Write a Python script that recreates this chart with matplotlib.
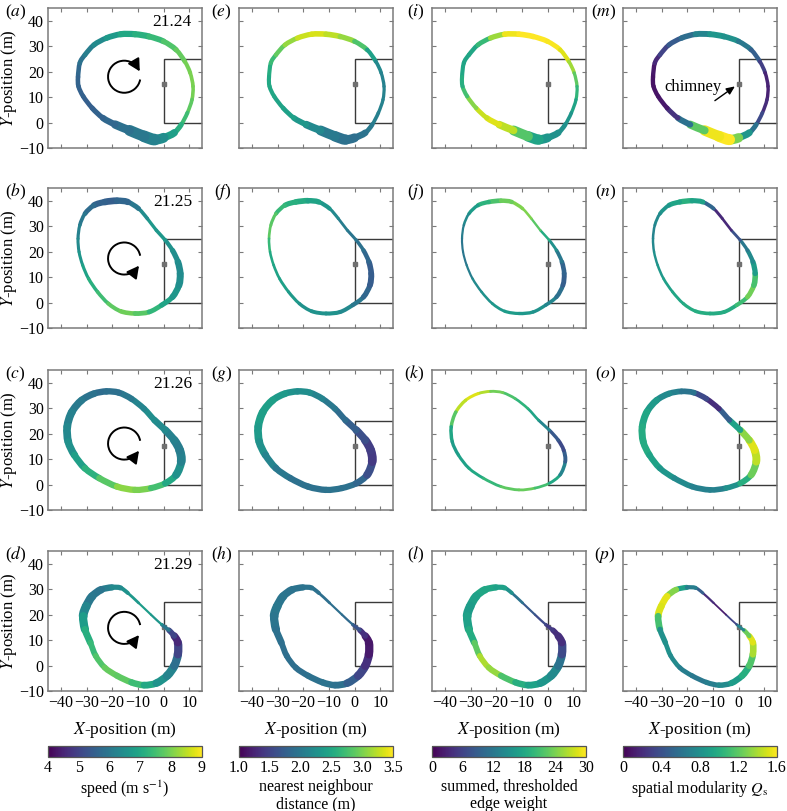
import numpy as np
import matplotlib
matplotlib.use('Agg')
import matplotlib as mpl
import matplotlib.pyplot as plt
from matplotlib.path import Path
from matplotlib.patches import Arc, Rectangle, PathPatch

plt.rcParams['font.family'] = ['Liberation Serif', 'DejaVu Serif']
plt.rcParams['mathtext.fontset'] = 'stix'
plt.rcParams['axes.unicode_minus'] = True

# ---------------- data: trajectories (m) per row ----------------
row1_x = [-33.3, -32.6, -30.6, -27.1, -22.2, -16.7, -11.1, -5.6, 0.0, 4.9, 8.3, 10.4, 11.5, 11.1, 9.3, 6.9, 4.2, 0.0, -3.5, -7.6, -13.2, -18.8, -23.6, -27.8, -31.3, -33.1]
row1_y = [17.9, 23.4, 26.6, 30.5, 33.2, 34.7, 34.7, 33.8, 31.9, 28.6, 24.0, 19.5, 14.2, 9.0, 3.8, -0.8, -4.0, -6.0, -6.7, -5.4, -3.1, -0.8, 1.8, 5.7, 10.3, 14.2]
row1_w = [1.8, 1.8, 1.9, 2.0, 2.2, 2.4, 2.5, 2.4, 2.2, 2.0, 1.7, 1.5, 1.4, 1.4, 1.5, 1.7, 2.4, 3.4, 4.4, 4.8, 3.8, 2.8, 2.2, 1.9, 1.8, 1.8]

row2_x = [-18.1, -22.9, -27.1, -30.6, -32.6, -33.3, -32.9, -31.5, -29.2, -25.7, -21.5, -16.7, -11.1, -5.6, -0.7, 3.5, 6.0, 6.5, 5.6, 3.5, 0.7, -2.8, -6.3, -9.7, -13.9]
row2_y = [40.0, 39.5, 38.2, 34.9, 30.4, 25.1, 19.9, 14.7, 9.4, 4.2, -0.4, -3.4, -4.3, -3.7, -1.0, 2.2, 6.8, 11.4, 16.0, 20.5, 24.5, 28.4, 33.0, 36.9, 39.5]
row2_w = [2.7, 2.6, 2.2, 1.6, 1.3, 1.2, 1.2, 1.2, 1.3, 1.4, 1.5, 1.7, 1.9, 1.9, 1.9, 2.2, 2.7, 2.8, 2.4, 1.8, 1.5, 1.3, 1.3, 1.6, 2.3]

row3_x = [-22.2, -27.1, -31.9, -35.7, -37.5, -37.1, -34.7, -30.6, -25.0, -18.1, -11.1, -4.9, 0.7, 4.9, 6.9, 6.3, 4.2, 0.7, -3.5, -7.6, -12.5, -17.4]
row3_y = [36.6, 35.7, 33.1, 28.5, 22.7, 16.8, 11.6, 6.4, 2.5, -0.8, -2.1, -1.4, 0.5, 3.8, 9.0, 13.5, 17.4, 21.4, 25.3, 29.8, 33.7, 36.1]
row3_w = [2.5, 2.6, 2.8, 3.0, 3.1, 3.0, 2.8, 2.6, 2.5, 2.5, 2.5, 2.4, 2.4, 2.8, 3.4, 3.5, 3.2, 2.8, 2.4, 2.3, 2.4, 2.5]

row4_x = [-20.1, -24.3, -27.8, -30.1, -31.3, -30.6, -28.5, -26.4, -22.9, -18.1, -12.5, -7.6, -2.8, 1.4, 4.2, 5.6, 5.6, 4.2, 2.1, -0.7, -4.9, -9.7, -13.9, -16.7]
row4_y = [30.7, 29.8, 27.2, 23.3, 19.4, 14.2, 9.0, 3.8, -0.8, -4.0, -6.6, -7.7, -6.9, -4.0, -0.1, 4.4, 9.0, 11.6, 13.9, 16.1, 20.0, 24.6, 28.5, 30.5]
row4_w = [2.3, 2.8, 3.2, 3.4, 3.5, 3.0, 2.4, 2.2, 2.3, 2.4, 2.5, 2.6, 2.8, 3.3, 3.3, 3.2, 3.3, 2.6, 1.8, 1.0, 0.8, 0.9, 1.3, 1.8]

# ---------------- data: colour values along the trajectories ----------------
speed_a = [5.6, 5.75, 6.0, 6.25, 6.5, 6.9, 7.1, 7.25, 7.5, 7.75, 7.9, 8.0, 8.0, 7.9, 7.6, 7.3, 7.0, 6.6, 6.25, 6.1, 5.9, 5.75, 5.6, 5.5, 5.5, 5.55]
nnd_e = [2.5, 2.6, 2.8, 3.0, 3.2, 3.4, 3.3, 3.2, 3.0, 2.6, 2.25, 2.1, 2.1, 2.1, 2.1, 2.05, 2.0, 1.9, 1.9, 1.95, 2.1, 2.25, 2.4, 2.45, 2.45, 2.5]
edge_i = [18, 17.5, 17.5, 18, 22.5, 28.5, 30, 30, 30, 29.5, 27.5, 24, 21, 18.5, 16.5, 15, 15, 15, 16.5, 18.5, 25.5, 28.5, 28.5, 26.5, 22.5, 19.5]
qs_m = [0.08, 0.13, 0.24, 0.4, 0.51, 0.64, 0.8, 0.88, 0.72, 0.56, 0.4, 0.19, 0.13, 0.16, 0.24, 0.48, 0.72, 0.96, 1.6, 1.6, 1.52, 0.88, 0.32, 0.13, 0.08, 0.08]

speed_b = [5.5, 5.5, 5.6, 5.9, 6.1, 6.25, 6.5, 6.75, 7.0, 7.3, 7.6, 7.9, 7.9, 7.5, 7.1, 6.75, 6.5, 6.4, 6.4, 6.5, 6.6, 6.75, 6.6, 6.25, 5.75]
nnd_f = [2.5, 2.55, 2.6, 2.75, 2.95, 2.8, 2.55, 2.45, 2.45, 2.4, 2.3, 2.25, 2.3, 2.25, 2.1, 1.9, 1.75, 1.7, 1.75, 1.9, 1.95, 2.0, 2.1, 2.25, 2.4]
edge_j = [22.5, 20.5, 18, 15, 13.5, 12, 11.5, 12, 13.5, 15, 15.5, 16.5, 16.5, 15.5, 15, 12.5, 9.5, 8.5, 10.5, 13.5, 16.5, 20.5, 24, 24.5, 24]
qs_n = [1.04, 0.99, 0.88, 0.8, 0.72, 0.72, 0.77, 0.83, 0.88, 0.93, 0.96, 0.99, 0.99, 0.96, 0.99, 1.2, 1.31, 0.96, 0.8, 0.72, 0.56, 0.24, 0.13, 0.24, 0.8]

speed_c = [5.75, 5.8, 6.0, 6.1, 6.25, 6.4, 6.6, 7.0, 7.4, 8.0, 8.25, 7.75, 7.25, 6.75, 6.25, 6.1, 6.1, 6.25, 6.5, 6.4, 6.1, 5.9]
nnd_g = [2.25, 2.3, 2.4, 2.4, 2.4, 2.3, 2.2, 2.05, 1.95, 1.9, 1.95, 1.95, 1.9, 1.75, 1.45, 1.4, 1.5, 1.7, 1.8, 1.95, 2.05, 2.2]
edge_k = [24.5, 28.5, 28.5, 25.5, 19, 16.5, 16.5, 17.5, 18.5, 21.5, 23.5, 22.5, 19.5, 16.5, 10.5, 7.5, 6, 10.5, 16.5, 18.5, 20.5, 22.5]
qs_o = [0.67, 0.72, 0.8, 0.93, 0.96, 0.99, 0.96, 0.88, 0.8, 0.72, 0.67, 0.72, 0.88, 1.12, 1.36, 1.52, 1.52, 1.12, 0.72, 0.24, 0.16, 0.56]

speed_d = [6.25, 6.0, 5.9, 6.1, 6.5, 7.0, 7.25, 7.5, 7.75, 7.9, 7.6, 7.25, 6.75, 6.4, 6.1, 5.5, 4.5, 4.6, 5.5, 6.5, 6.75, 6.75, 6.6, 6.5]
nnd_h = [1.95, 1.95, 1.95, 2.0, 2.0, 1.95, 1.9, 1.9, 1.9, 1.9, 1.95, 1.95, 1.9, 1.6, 1.45, 1.25, 1.1, 1.2, 1.5, 1.8, 1.9, 1.9, 1.9, 1.95]
edge_l = [17.5, 18, 17.5, 16.5, 16.5, 17.5, 19.5, 25.5, 27, 23.5, 19.5, 18, 16.5, 15, 13.5, 9, 4.5, 3.5, 4.5, 6, 7.5, 9, 13.5, 16.5]
qs_p = [0.72, 1.1, 1.5, 1.57, 1.45, 0.8, 0.8, 0.8, 0.72, 0.64, 0.64, 0.72, 0.8, 0.96, 1.04, 1.28, 1.52, 1.52, 0.96, 0.48, 0.16, 0.08, 0.32, 0.64]

times = ['21.24', '21.25', '21.26', '21.29']
panel_letters = [['a', 'e', 'i', 'm'], ['b', 'f', 'j', 'n'], ['c', 'g', 'k', 'o'], ['d', 'h', 'l', 'p']]
width_scale = [[1.0, 0.9, 0.9, 0.95], [1.0, 0.85, 0.7, 0.8], [1.0, 1.0, 0.45, 0.9], [1.0, 1.0, 1.0, 0.8]]

cb_ranges = [(4, 9), (1.0, 3.5), (0, 30), (0, 1.6)]
cb_ticks = [[4, 5, 6, 7, 8, 9], [1.0, 1.5, 2.0, 2.5, 3.0, 3.5], [0, 6, 12, 18, 24, 30], [0, 0.4, 0.8, 1.2, 1.6]]
cb_ticklabels = [['4', '5', '6', '7', '8', '9'], ['1.0', '1.5', '2.0', '2.5', '3.0', '3.5'],
                 ['0', '6', '12', '18', '24', '30'], ['0', '0.4', '0.8', '1.2', '1.6']]
cb_labels = ['speed (m s$^{-1}$)', 'nearest neighbour\ndistance (m)', 'summed, thresholded\nedge weight',
             'spatial modularity $Q_\\mathrm{s}$']

xticks = [-40, -30, -20, -10, 0, 10]
yticks = [-10, 0, 10, 20, 30, 40]

rows = [(row1_x, row1_y, row1_w), (row2_x, row2_y, row2_w), (row3_x, row3_y, row3_w), (row4_x, row4_y, row4_w)]
colours = [[speed_a, nnd_e, edge_i, qs_m], [speed_b, nnd_f, edge_j, qs_n],
           [speed_c, nnd_g, edge_k, qs_o], [speed_d, nnd_h, edge_l, qs_p]]

# ---------------- layout ----------------
W, H = 787, 811
fig = plt.figure(figsize=(W / 100, H / 100), dpi=100)
col_left = [48, 239, 432, 623]
row_top = [8, 188, 370, 551]
AW, AH = 154, 140
XLIM, YLIM = (-45, 15), (-10, 45)
pt_per_m = AH / (YLIM[1] - YLIM[0]) * 0.72
cmap = plt.get_cmap('viridis')
SPINE = '#7a7a7a'


def rect(l, t, w, h):
    return [l / W, 1 - (t + h) / H, w / W, h / H]


def circ_arrow(ax, cx, cy, r, clockwise):
    if clockwise:
        t1, t2, head = 30, 350, 30
        tang = np.array([np.sin(np.radians(head)), -np.cos(np.radians(head))])
    else:
        t1, t2, head = 10, 323, 323
        tang = np.array([-np.sin(np.radians(head)), np.cos(np.radians(head))])
    ax.add_patch(Arc((cx, cy), 2 * r, 2 * r, theta1=t1, theta2=t2, lw=1.4, color='black', zorder=4))
    end = np.array([cx + r * np.cos(np.radians(head)), cy + r * np.sin(np.radians(head))])
    ax.annotate('', xy=end + tang * 1.2, xytext=end - tang * 0.6,
                arrowprops=dict(arrowstyle='-|>,head_length=0.6,head_width=0.32', color='black',
                                lw=1.4, shrinkA=0, shrinkB=0, mutation_scale=12), zorder=4)


def draw_loop(ax, pts, vals, widths, norm):
    """Closed smooth band: each piece is a cubic Bezier through consecutive points."""
    n = len(pts)
    codes = [Path.MOVETO, Path.CURVE4, Path.CURVE4, Path.CURVE4]
    for i in range(n):
        p0, p1, p2, p3 = pts[i - 1], pts[i], pts[(i + 1) % n], pts[(i + 2) % n]
        c1 = p1 + (p2 - p0) / 6.0
        c2 = p2 - (p3 - p1) / 6.0
        col = cmap(norm((vals[i] + vals[(i + 1) % n]) / 2))
        lw = (widths[i] + widths[(i + 1) % n]) / 2
        ax.add_patch(PathPatch(Path([p1, c1, c2, p2], codes), fill=False, edgecolor=col,
                               lw=lw, capstyle='round', joinstyle='round', zorder=3))


arrow_centres = [(-15.3, 18.0), (-15.3, 17.3), (-15.3, 16.1), (-15.3, 14.8)]

for r in range(4):
    xs, ys, ws = rows[r]
    pts = np.column_stack([xs, ys]).astype(float)
    for c in range(4):
        ax = fig.add_axes(rect(col_left[c], row_top[r], AW, AH))
        norm = mpl.colors.Normalize(*cb_ranges[c])
        widths = np.asarray(ws, float) * width_scale[r][c] * pt_per_m
        draw_loop(ax, pts, colours[r][c], widths, norm)
        # building outline and chimney
        ax.add_patch(Rectangle((0, 0), 15, 25, fill=False, ec='#3a3a3a', lw=1.0, zorder=2))
        ax.plot([0], [15], marker='s', ms=3, color='#707070', zorder=2.5)
        ax.set_xlim(*XLIM)
        ax.set_ylim(*YLIM)
        ax.set_xticks(xticks)
        ax.set_yticks(yticks)
        ax.tick_params(direction='in', top=True, right=True, length=3, width=0.8,
                       color=SPINE, labelsize=11.5, pad=3)
        for s in ax.spines.values():
            s.set_color(SPINE)
            s.set_linewidth(1.1)
        if c != 0:
            ax.set_yticklabels([])
            lab_x = col_left[c] - 7
        else:
            ax.set_ylabel('$Y$-position (m)', fontsize=12)
            ax.yaxis.set_label_coords((19 - col_left[0]) / AW, 0.5)
            ax.text(0.935, 0.9, times[r], transform=ax.transAxes, ha='right', va='center', fontsize=12.5)
            circ_arrow(ax, arrow_centres[r][0], arrow_centres[r][1], 6.3, r == 0)
            lab_x = 26
        if r != 3:
            ax.set_xticklabels([])
        else:
            ax.set_xlabel('$X$-position (m)', fontsize=12.5, labelpad=6)
        fig.text(lab_x / W, 1 - (row_top[r] + 4) / H, '($%s$)' % panel_letters[r][c],
                 ha='right', va='center', fontsize=12.5)
        if r == 0 and c == 3:
            ax.text(-17.7, 14.0, 'chimney', ha='center', va='center', fontsize=12)
            ax.annotate('', xy=(-1.4, 14.2), xytext=(-9.2, 8.6),
                        arrowprops=dict(arrowstyle='-|>,head_length=0.5,head_width=0.22',
                                        color='black', lw=1.0, shrinkA=0, shrinkB=0,
                                        mutation_scale=10))

# colourbars
for c in range(4):
    cax = fig.add_axes(rect(col_left[c], 746, AW, 11))
    sm = mpl.cm.ScalarMappable(norm=mpl.colors.Normalize(*cb_ranges[c]), cmap=cmap)
    cb = fig.colorbar(sm, cax=cax, orientation='horizontal', ticks=cb_ticks[c])
    cb.ax.set_xticklabels(cb_ticklabels[c])
    cb.ax.tick_params(length=0, labelsize=11.5, pad=2)
    cb.outline.set_edgecolor('#555555')
    cb.outline.set_linewidth(0.9)
    cb.set_label(cb_labels[c], fontsize=11.5, labelpad=2, linespacing=1.15)

fig.savefig('out.png', dpi=100)
